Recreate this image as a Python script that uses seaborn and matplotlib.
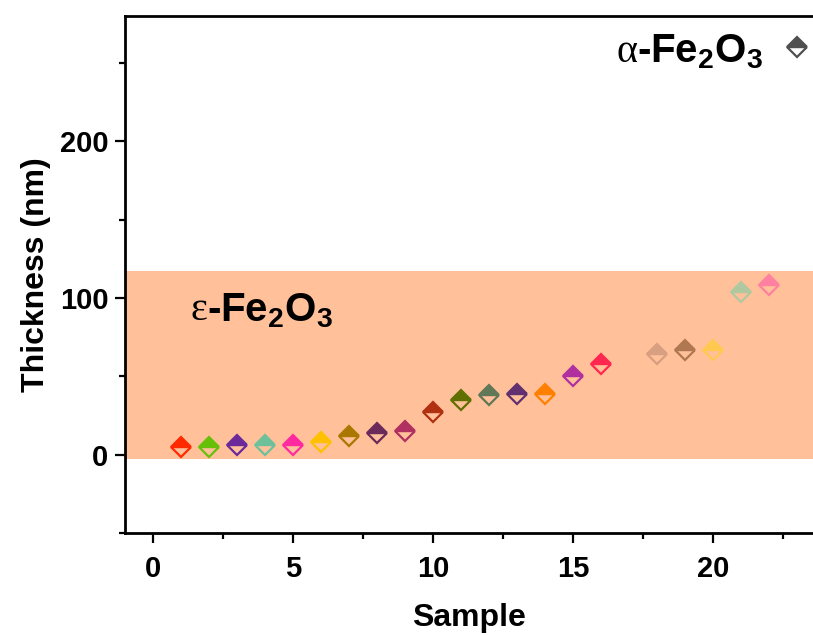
import numpy as np
import pandas as pd
import matplotlib
matplotlib.use('Agg')
import matplotlib.pyplot as plt
import seaborn as sns

# values
samples = [1, 2, 3, 4, 5, 6, 7, 8, 9, 10, 11, 12, 13, 14, 15, 16, 18, 19, 20, 21, 22]
thickness = [5, 5, 6, 6, 6, 8, 12, 14, 15, 27, 35, 38, 39, 39, 50, 58, 64, 67, 67, 104, 108]
colors = ['#FF2A00', '#66C00A', '#6A2A9A', '#6CC09A', '#FF2AA0', '#FFC000', '#A87800',
          '#6A2A5A', '#B03060', '#B03010', '#607000', '#607858', '#603070', '#FF8000',
          '#B030A0', '#FF2850', '#D8A080', '#B07850', '#FFC850', '#B0C8A0', '#FF80A0']

alpha_sample = [23]
alpha_thickness = [260]
alpha_color = '#505050'

eps_band = (-2.5, 117)   # range of the epsilon phase region

sns.set_style('ticks')
plt.rcParams['font.family'] = ['Liberation Sans', 'DejaVu Sans']
plt.rcParams['font.weight'] = 'bold'
plt.rcParams['mathtext.fontset'] = 'custom'
plt.rcParams['mathtext.bf'] = 'Liberation Sans:bold'
plt.rcParams['mathtext.rm'] = 'Liberation Sans:bold'
for k in ['text.color', 'axes.labelcolor', 'xtick.color', 'ytick.color', 'axes.edgecolor']:
    plt.rcParams[k] = 'black'

df = pd.DataFrame({'sample': samples, 'thickness': thickness})
df_a = pd.DataFrame({'sample': alpha_sample, 'thickness': alpha_thickness})

fig = plt.figure(figsize=(8.13, 6.35), dpi=100)
ax = fig.add_axes([125 / 813, 1 - 533 / 635, 1 - 125 / 813, (533 - 16) / 635])

ax.axhspan(eps_band[0], eps_band[1], color='#FFC09A', lw=0, zorder=0)

mk = dict(marker='D', markersize=10.5, fillstyle='top', markerfacecoloralt='none',
          markeredgewidth=1.6, linestyle='', legend=False)
sns.lineplot(data=df, x='sample', y='thickness', hue='sample',
             palette=dict(zip(samples, colors)), ax=ax, **mk)
sns.lineplot(data=df_a, x='sample', y='thickness', color=alpha_color, ax=ax, **mk)
for ln in ax.lines:
    ln.set_markeredgecolor(ln.get_color())
    ln.set_markerfacecolor(ln.get_color())
    ln.set_fillstyle('top')
    ln.set_markerfacecoloralt('none')

ax.set_xlim(-1, 23.58)
ax.set_ylim(-50, 280)
ax.set_xticks([0, 5, 10, 15, 20])
ax.set_xticks(np.arange(2.5, 23, 5), minor=True)
ax.set_yticks([0, 100, 200])
ax.set_yticks([-50, 50, 150, 250], minor=True)
ax.tick_params(axis='both', which='major', length=7, width=1.6, labelsize=21, direction='out')
ax.tick_params(axis='both', which='minor', length=4, width=1.6, direction='out')
ax.tick_params(axis='x', pad=9)
ax.tick_params(axis='y', pad=5)

for side in ['left', 'bottom', 'top']:
    ax.spines[side].set_linewidth(2)
ax.spines['right'].set_visible(False)

ax.set_xlabel('Sample', fontsize=23, fontweight='bold', labelpad=14)
ax.set_ylabel('Thickness (nm)', fontsize=23, fontweight='bold', labelpad=6)

# phase labels: greek letter in serif, rest bold sans
ax.text(1.94, 92, '\u03b5', fontsize=29, fontweight='normal', family='Liberation Serif',
        ha='right', va='center')
ax.text(1.94, 92, r'-Fe$_\mathbf{2}$O$_\mathbf{3}$', fontsize=29, fontweight='bold',
        ha='left', va='center')
ax.text(17.3, 257, '\u03b1', fontsize=29, fontweight='normal', family='Liberation Serif',
        ha='right', va='center')
ax.text(17.3, 257, r'-Fe$_\mathbf{2}$O$_\mathbf{3}$', fontsize=29, fontweight='bold',
        ha='left', va='center')

fig.savefig('out.png', dpi=100)
